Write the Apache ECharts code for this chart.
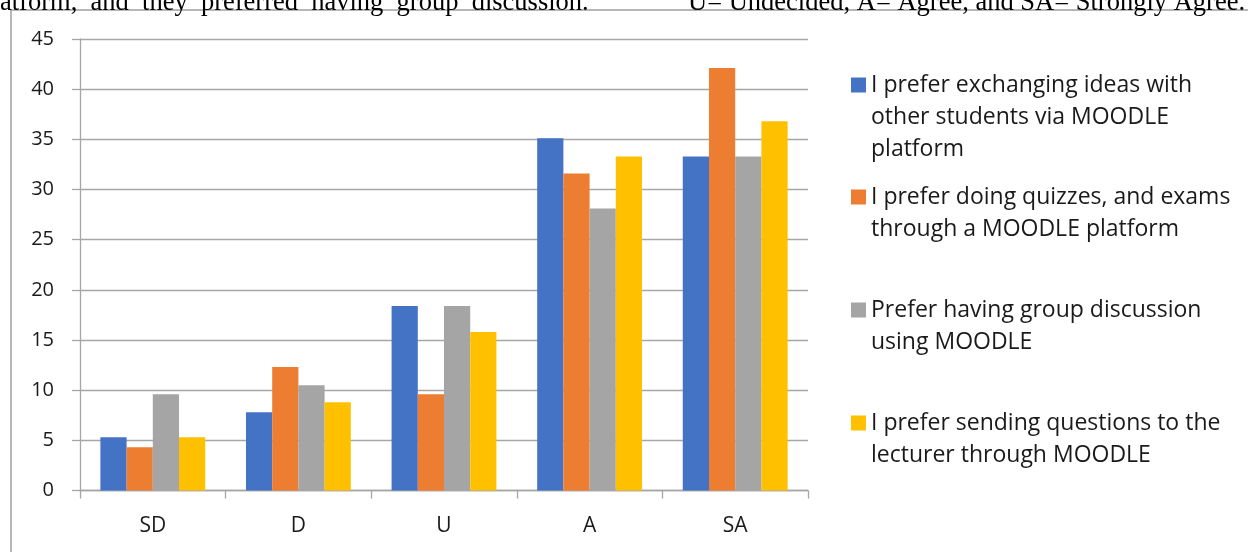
<!DOCTYPE html>
<html>
<head>
<meta charset="utf-8">
<style>
  html, body { margin: 0; padding: 0; background: #fff; }
  #chart { width: 1248px; height: 552px; }
</style>
<script src="https://cdn.jsdelivr.net/npm/echarts@6/dist/echarts.min.js"></script>
</head>
<body>
<div id="chart"></div>
<script>
// Likert responses about MOODLE use, percent per answer
var categories = ['SD', 'D', 'U', 'A', 'SA'];
var yTicks = { min: 0, max: 45, step: 5 };

var seriesNames = [
  'I prefer exchanging ideas with other students via MOODLE platform',
  'I prefer doing quizzes, and exams through a MOODLE platform',
  'Prefer having group discussion using MOODLE',
  'I prefer sending questions to the lecturer through MOODLE'
];
var legendLines = [
  ['I prefer exchanging ideas with', 'other students via MOODLE', 'platform'],
  ['I prefer doing quizzes, and exams', 'through a MOODLE platform'],
  ['Prefer having group discussion', 'using MOODLE'],
  ['I prefer sending questions to the', 'lecturer through MOODLE']
];

var exchangeIdeas = [5.3, 7.8, 18.4, 35.1, 33.3];
var quizzesExams = [4.3, 12.3, 9.6, 31.6, 42.1];
var groupDiscussion = [9.6, 10.5, 18.4, 28.1, 33.3];
var sendQuestions = [5.3, 8.8, 15.8, 33.3, 36.8];

// the page text above the chart is justified, hence the wide gaps
var captionLeft = 'atform,  and  they  preferred  having  group  discussion.';
var captionRight = 'U= Undecided, A= Agree, and SA= Strongly Agree.';

(function() {
  var colors = ['#4472C4', '#ED7D31', '#A5A5A5', '#FFC000'];
  var values = [exchangeIdeas, quizzesExams, groupDiscussion, sendQuestions];
  var gridColor = '#a6a6a6';
  var font = '"Open Sans", Lato, sans-serif';
  var lineH = 32;
  // legend text is centred on its icon, so blank lines are put in front
  // to bring the first real line level with the square
  var legendTops = [5, 149, 262, 375];

  var chart = echarts.init(document.getElementById('chart'), null, { renderer: 'canvas' });

  var legends = seriesNames.map(function(name, i) {
    var n = legendLines[i].length;
    var pad = new Array(n).join('\n');
    return {
      data: [name],
      orient: 'vertical',
      left: 851,
      top: legendTops[i],
      padding: 0,
      icon: 'rect',
      itemWidth: 15,
      itemHeight: 15,
      selectedMode: false,
      formatter: function() { return pad + legendLines[i].join('\n'); },
      textStyle: {
        color: '#1a1a1a',
        fontFamily: font,
        fontSize: 23,
        lineHeight: lineH
      }
    };
  });

  chart.setOption({
    animation: false,
    color: colors,
    grid: { left: 80, right: 440, top: 39, bottom: 61.5 },
    legend: legends,
    xAxis: {
      type: 'category',
      data: categories,
      axisLine: { lineStyle: { color: gridColor, width: 1.3 } },
      axisTick: { show: true, length: 8, lineStyle: { color: gridColor, width: 1.3 } },
      axisLabel: { color: '#1a1a1a', fontFamily: font, fontSize: 21, margin: 25 }
    },
    yAxis: {
      type: 'value',
      min: yTicks.min,
      max: yTicks.max,
      interval: yTicks.step,
      axisLine: { show: true, lineStyle: { color: gridColor, width: 1.3 } },
      axisTick: { show: true, length: 8, lineStyle: { color: gridColor, width: 1.3 } },
      splitLine: { lineStyle: { color: gridColor, width: 1.3 } },
      axisLabel: { color: '#1a1a1a', fontFamily: font, fontSize: 20, margin: 26 }
    },
    series: seriesNames.map(function(name, i) {
      return {
        name: name,
        type: 'bar',
        data: values[i],
        barGap: '0%',
        barCategoryGap: '28%',
        itemStyle: { color: colors[i] }
      };
    }),
    graphic: [
      {
        type: 'rect',
        shape: { x: 11, y: 10, width: 1400, height: 700 },
        style: { fill: 'none', stroke: '#a0a0a0', lineWidth: 1.5 },
        silent: true
      },
      {
        type: 'text',
        x: 0, y: 16.5,
        style: { text: captionLeft, fontFamily: '"Liberation Serif", serif', fontSize: 26.5, fill: '#000', verticalAlign: 'bottom' },
        silent: true
      },
      {
        type: 'text',
        x: 688, y: 16.5,
        style: { text: captionRight, fontFamily: '"Liberation Serif", serif', fontSize: 26.5, fill: '#000', verticalAlign: 'bottom' },
        silent: true
      }
    ]
  });
  window.addEventListener('resize', function() { chart.resize(); });
})();
</script>
</body>
</html>
